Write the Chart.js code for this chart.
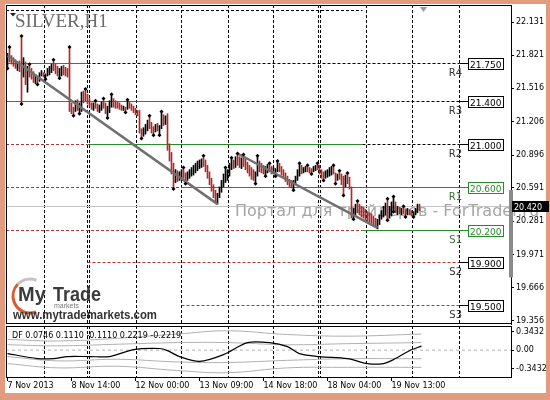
<!DOCTYPE html>
<html>
<head>
<meta charset="utf-8">
<script src="https://cdn.jsdelivr.net/npm/chart.js@4.4.1/dist/chart.umd.min.js"></script>
<style>
  html, body { margin: 0; padding: 0; background: #e39b80; }
  #frame { position: relative; width: 550px; height: 400px; background: #e39b80; overflow: hidden; }
  #paper { position: absolute; left: 5px; top: 4px; width: 541px; height: 389px; background: #fff; }
  canvas { position: absolute; left: 0; }
  #main { top: 0; }
  #sub { top: 320px; }
</style>
</head>
<body>
<div id="frame">
  <div id="paper"></div>
  <canvas id="main" width="550" height="330"></canvas>
  <canvas id="sub" width="550" height="80"></canvas>
</div>
<script>
// SILVER H1 bars, one per hour
const highs = [
  21.84, 21.90, 21.82, 21.80, 21.78, 21.76, 21.77, 22.00, 21.80, 21.76,
  21.72, 21.74, 21.70, 21.67, 21.64, 21.63, 21.66, 21.68, 21.66, 21.65,
  21.70, 21.72, 21.74, 21.78, 21.74, 21.72, 21.70, 21.72, 21.73, 21.71,
  21.70, 21.90, 21.38, 21.34, 21.40, 21.41, 21.38, 21.48, 21.49, 21.51,
  21.46, 21.42, 21.38, 21.38, 21.40, 21.37, 21.36, 21.39, 21.42, 21.38,
  21.35, 21.40, 21.46, 21.42, 21.40, 21.39, 21.38, 21.36, 21.35, 21.34,
  21.41, 21.39, 21.37, 21.35, 21.33, 21.31, 21.31, 21.14, 21.15, 21.18,
  21.22, 21.26, 21.20, 21.16, 21.18, 21.19, 21.17, 21.30, 21.27, 21.26,
  21.28, 21.00, 20.92, 20.82, 20.76, 20.75, 20.74, 20.76, 20.78, 20.73,
  20.74, 20.76, 20.78, 20.80, 20.82, 20.84, 20.85, 20.86, 20.89, 20.85,
  20.80, 20.74, 20.68, 20.62, 20.57, 20.54, 20.60, 20.66, 20.72, 20.78,
  20.76, 20.82, 20.87, 20.85, 20.88, 20.91, 20.88, 20.87, 20.90, 20.86,
  20.83, 20.80, 20.78, 20.76, 20.74, 20.89, 20.84, 20.82, 20.80, 20.79,
  20.81, 20.82, 20.79, 20.78, 20.77, 20.84, 20.82, 20.79, 20.76, 20.73,
  20.70, 20.67, 20.66, 20.66, 20.70, 20.76, 20.82, 20.80, 20.78, 20.79,
  20.80, 20.78, 20.77, 20.79, 20.80, 20.82, 20.80, 20.76, 20.74, 20.75,
  20.76, 20.78, 20.79, 20.80, 20.73, 20.72, 20.75, 20.72, 20.70, 20.71,
  20.73, 20.69, 20.60, 20.40, 20.44, 20.47, 20.44, 20.42, 20.41, 20.39,
  20.37, 20.36, 20.35, 20.33, 20.31, 20.30, 20.34, 20.38, 20.42, 20.45,
  20.49, 20.42, 20.46, 20.51, 20.46, 20.42, 20.41, 20.40, 20.42, 20.39,
  20.40, 20.39, 20.38, 20.37, 20.40, 20.44, 20.44
];
const lows = [
  21.70, 21.76, 21.74, 21.72, 21.70, 21.68, 21.67, 21.37, 21.62, 21.55,
  21.48, 21.62, 21.60, 21.57, 21.56, 21.55, 21.58, 21.63, 21.62, 21.60,
  21.63, 21.64, 21.66, 21.68, 21.65, 21.63, 21.61, 21.63, 21.64, 21.63,
  21.62, 21.30, 21.28, 21.26, 21.30, 21.31, 21.28, 21.30, 21.38, 21.40,
  21.37, 21.35, 21.32, 21.31, 21.33, 21.30, 21.29, 21.31, 21.33, 21.28,
  21.24, 21.29, 21.34, 21.34, 21.33, 21.33, 21.32, 21.31, 21.31, 21.29,
  21.32, 21.33, 21.31, 21.29, 21.27, 21.26, 21.10, 21.05, 21.07, 21.09,
  21.12, 21.14, 21.10, 21.08, 21.11, 21.12, 21.08, 21.14, 21.17, 21.18,
  20.94, 20.84, 20.72, 20.58, 20.64, 20.65, 20.66, 20.67, 20.68, 20.63,
  20.66, 20.68, 20.70, 20.71, 20.73, 20.75, 20.77, 20.78, 20.79, 20.74,
  20.68, 20.62, 20.56, 20.50, 20.46, 20.44, 20.50, 20.55, 20.60, 20.64,
  20.66, 20.70, 20.76, 20.77, 20.78, 20.80, 20.78, 20.77, 20.79, 20.76,
  20.73, 20.70, 20.67, 20.66, 20.63, 20.70, 20.74, 20.73, 20.72, 20.70,
  20.73, 20.74, 20.72, 20.72, 20.70, 20.74, 20.74, 20.71, 20.68, 20.65,
  20.62, 20.60, 20.59, 20.57, 20.62, 20.66, 20.70, 20.72, 20.73, 20.74,
  20.74, 20.73, 20.72, 20.74, 20.75, 20.76, 20.72, 20.68, 20.66, 20.68,
  20.69, 20.70, 20.71, 20.72, 20.63, 20.66, 20.67, 20.62, 20.52, 20.60,
  20.63, 20.58, 20.31, 20.30, 20.34, 20.36, 20.34, 20.32, 20.31, 20.29,
  20.28, 20.27, 20.26, 20.24, 20.23, 20.21, 20.25, 20.30, 20.32, 20.34,
  20.29, 20.31, 20.33, 20.37, 20.36, 20.34, 20.35, 20.34, 20.35, 20.32,
  20.34, 20.34, 20.33, 20.32, 20.34, 20.36, 20.38
];
const closes = [
  21.80, 21.78, 21.76, 21.74, 21.71, 21.72, 21.69, 21.66, 21.70, 21.60,
  21.68, 21.66, 21.62, 21.59, 21.60, 21.58, 21.64, 21.65, 21.63, 21.64,
  21.68, 21.70, 21.72, 21.70, 21.67, 21.65, 21.66, 21.68, 21.66, 21.65,
  21.64, 21.34, 21.31, 21.30, 21.36, 21.33, 21.34, 21.46, 21.44, 21.43,
  21.40, 21.37, 21.34, 21.36, 21.35, 21.33, 21.34, 21.37, 21.35, 21.30,
  21.33, 21.38, 21.40, 21.36, 21.35, 21.34, 21.33, 21.32, 21.33, 21.32,
  21.38, 21.35, 21.33, 21.31, 21.29, 21.28, 21.12, 21.09, 21.13, 21.16,
  21.20, 21.17, 21.12, 21.11, 21.16, 21.14, 21.15, 21.28, 21.24, 21.25,
  20.98, 20.88, 20.76, 20.66, 20.72, 20.69, 20.71, 20.73, 20.70, 20.68,
  20.72, 20.74, 20.76, 20.78, 20.80, 20.81, 20.83, 20.84, 20.82, 20.76,
  20.70, 20.64, 20.58, 20.53, 20.49, 20.52, 20.58, 20.64, 20.70, 20.72,
  20.74, 20.80, 20.84, 20.80, 20.86, 20.84, 20.82, 20.86, 20.81, 20.78,
  20.75, 20.72, 20.70, 20.68, 20.72, 20.80, 20.77, 20.75, 20.74, 20.77,
  20.79, 20.76, 20.74, 20.75, 20.76, 20.81, 20.77, 20.73, 20.70, 20.67,
  20.64, 20.62, 20.61, 20.64, 20.68, 20.74, 20.78, 20.76, 20.77, 20.78,
  20.76, 20.75, 20.74, 20.78, 20.79, 20.78, 20.74, 20.70, 20.69, 20.72,
  20.73, 20.74, 20.76, 20.74, 20.68, 20.71, 20.69, 20.64, 20.62, 20.68,
  20.66, 20.60, 20.36, 20.38, 20.42, 20.40, 20.37, 20.35, 20.33, 20.31,
  20.30, 20.29, 20.28, 20.26, 20.25, 20.28, 20.32, 20.36, 20.40, 20.43,
  20.36, 20.39, 20.40, 20.42, 20.38, 20.40, 20.37, 20.38, 20.37, 20.36,
  20.38, 20.36, 20.35, 20.36, 20.38, 20.43, 20.42
];
const firstOpen = 21.72;
const currentPrice = 20.42;

// fractal arrows (bar numbers)
const fractalUp = [1, 7, 11, 23, 31, 39, 44, 48, 52, 60, 71, 77, 88, 98, 109, 112, 115, 118,
  125, 131, 135, 146, 150, 155, 163, 166, 170, 175, 190, 193, 198];
const fractalDown = [0, 7, 15, 19, 26, 33, 36, 50, 59, 67, 73, 76, 83, 89, 124, 129, 134, 143,
  152, 158, 164, 168, 173, 190, 193, 199, 203];

// trend lines: [bar, price]
const trendStart = [[0, 21.82], [115, 20.91]];
const trendEnd = [[105, 20.44], [185, 20.22]];

// pivot levels of the current day
const levelNames = ['R4', 'R3', 'R2', 'R1', 'S1', 'S2', 'S3'];
const levelValues = [21.75, 21.40, 21.00, 20.60, 20.20, 19.90, 19.50];
// daily level pieces: [price, from bar, to bar, place against price]
const levelSegments = [
  [22.24, -1, 177.5, 'above'],
  [21.75, -1, 40, 'near'], [21.75, 40, 226, 'above'],
  [21.40, -1, 87, 'near'], [21.40, 87, 226, 'above'],
  [21.00, -1, 40, 'below'], [21.00, 40, 177.5, 'near'], [21.00, 177.5, 226, 'above'],
  [20.60, -1, 87, 'below'], [20.60, 87, 226, 'near'],
  [20.20, -1, 177.5, 'below'], [20.20, 177.5, 226, 'near'],
  [19.90, 40, 226, 'below'],
  [19.50, 87, 226, 'below']
];
const rangeBar = [19.76, 20.57];

const priceTicks = [22.131, 21.821, 21.516, 21.206, 20.896, 20.591, 20.281, 19.971, 19.666, 19.356];
const timeLabels = ['7 Nov 2013', '8 Nov 14:00', '12 Nov 00:00', '13 Nov 09:00', '14 Nov 18:00', '18 Nov 04:00', '19 Nov 13:00'];
const timeLabelBars = [0, 32, 64, 96, 128, 160, 192];
const separatorBars = [18.5, 40, 41, 64.5, 87, 110.5, 133, 155.5, 156.5, 179.5, 202.5, 226];

// DF oscillator
const dfBars = [0, 15, 23, 30, 41, 51, 63, 76, 80, 86, 96, 108, 120, 131, 140, 146, 156, 170, 180, 188, 193, 201, 207];
const dfValues = [-0.065, -0.157, -0.157, -0.12, -0.12, -0.12, 0.01, 0.03, -0.01, -0.12, -0.21, -0.083,
  0.14, 0.14, 0.065, -0.065, -0.12, -0.157, -0.25, -0.25, -0.176, -0.01, 0.075];
const bandBars = [0, 25, 55, 85, 110, 140, 170, 207];
const upperOuter = [0.20, 0.17, 0.22, 0.30, 0.36, 0.29, 0.26, 0.30];
const upperInner = [0.10, 0.08, 0.11, 0.14, 0.14, 0.10, 0.12, 0.14];
const lowerInner = [-0.12, -0.20, -0.17, -0.22, -0.23, -0.19, -0.16, -0.16];
const lowerOuter = [-0.25, -0.33, -0.30, -0.38, -0.42, -0.33, -0.32, -0.32];
const dfTicks = [0.3432, 0, -0.3432];
const dfTitle = 'DF 0.0746 0.1110 -0.1110 0.2219 -0.2219';

Chart.defaults.font.family = '"DejaVu Sans"';
Chart.defaults.font.size = 8;
Chart.defaults.color = '#000';

const X_MIN = -0.75, X_MAX = 251.75;
const levelStyle = {
  above: ['#000000', [3, 2]],
  near: ['#2b8a2b', []],
  below: ['#b23636', [3, 2]]
};

const barData = highs.map((h, i) => ({ x: i, y: [lows[i], h] }));
const barColors = closes.map((c, i) => c >= (i ? closes[i - 1] : firstOpen) ? '#000000' : '#b02a2a');

function hLine(ctx, x1, x2, py) {
  ctx.beginPath(); ctx.moveTo(x1, py); ctx.lineTo(x2, py); ctx.stroke();
}

const mainDecor = {
  id: 'mainDecor',
  beforeDatasetsDraw(chart) {
    const { ctx, chartArea: a, scales: { x, y } } = chart;
    ctx.save();
    ctx.lineWidth = 1;
    // day separators
    ctx.strokeStyle = '#000';
    ctx.setLineDash([3, 2]);
    separatorBars.forEach(b => {
      const px = Math.floor(x.getPixelForValue(b)) + 0.5;
      ctx.beginPath(); ctx.moveTo(px, a.top); ctx.lineTo(px, a.bottom); ctx.stroke();
    });
    // pivot levels
    levelSegments.forEach(([v, from, to, kind]) => {
      const py = Math.round(y.getPixelForValue(v)) + 0.5;
      ctx.strokeStyle = levelStyle[kind][0];
      ctx.setLineDash(levelStyle[kind][1]);
      hLine(ctx, Math.max(a.left, x.getPixelForValue(from)), x.getPixelForValue(to), py);
    });
    ctx.setLineDash([]);
    // current price line
    ctx.strokeStyle = '#c4c4c4';
    hLine(ctx, a.left, a.right, Math.round(y.getPixelForValue(currentPrice)) + 0.5);
    // watermark
    ctx.fillStyle = '#a6a6a6';
    ctx.font = '16px "DejaVu Sans"';
    ctx.fillText('Портал для трейдеров - ForTrader.ru', 235, 216);
    ctx.restore();
  },
  afterDatasetsDraw(chart) {
    const { ctx, chartArea: a, scales: { x, y } } = chart;
    ctx.save();
    ctx.lineWidth = 1;
    // level price boxes
    const lineEnd = x.getPixelForValue(226);
    levelValues.forEach((v, k) => {
      const py = Math.round(y.getPixelForValue(v)) + 0.5;
      const green = levelNames[k] === 'R1' || levelNames[k] === 'S1';
      const col = green ? '#2b8a2b' : '#000';
      ctx.strokeStyle = col;
      hLine(ctx, lineEnd, 468, py);
      ctx.fillStyle = '#fff';
      ctx.fillRect(468, py - 5.5, 36, 11);
      ctx.strokeRect(468.5, py - 5, 35, 11);
      ctx.fillStyle = col;
      ctx.font = '9px "DejaVu Sans"';
      ctx.textAlign = 'left';
      ctx.fillText(v.toFixed(3), 470, py + 4);
      ctx.textAlign = 'right';
      ctx.fillStyle = green ? '#3a6a3a' : '#333';
      ctx.font = '10px "DejaVu Sans"';
      ctx.fillText(levelNames[k], 462, py + 12);
    });
    ctx.textAlign = 'left';
    // grey range bar at the right edge
    ctx.fillStyle = '#8a8a8a';
    const r1 = y.getPixelForValue(rangeBar[1]), r0 = y.getPixelForValue(rangeBar[0]);
    ctx.fillRect(a.right - 2, r1, 4, r0 - r1);
    // title
    ctx.fillStyle = '#6a6a6a';
    ctx.font = '19px "Liberation Serif"';
    ctx.fillText('SILVER,H1', 15, 27);
    ctx.fillStyle = '#222';
    ctx.beginPath(); ctx.moveTo(10, 13); ctx.lineTo(16, 13); ctx.lineTo(13, 16.5); ctx.closePath(); ctx.fill();
    // shift marker
    ctx.fillStyle = '#9a9a9a';
    ctx.beginPath(); ctx.moveTo(420, 7); ctx.lineTo(427, 7); ctx.lineTo(423.5, 12); ctx.closePath(); ctx.fill();
    // logo
    ctx.lineWidth = 3;
    ctx.strokeStyle = '#c4c4c4';
    ctx.beginPath(); ctx.arc(30, 296, 17, 3.9, 5.1); ctx.stroke();
    ctx.strokeStyle = '#dc5a30';
    ctx.beginPath(); ctx.arc(30, 296, 17, 1.2, 3.9); ctx.stroke();
    ctx.fillStyle = '#3b3b3b';
    ctx.font = 'bold 20px "Liberation Sans"';
    ctx.fillText('My', 18, 301);
    ctx.fillText('Trade', 53, 301, 48);
    ctx.fillStyle = '#777';
    ctx.font = '7px "Liberation Sans"';
    ctx.fillText('markets', 54, 308);
    ctx.fillStyle = '#333';
    ctx.font = 'bold 12px "Liberation Sans"';
    ctx.fillText('www.mytrademarkets.com', 13, 319, 144);
    // frame
    ctx.lineWidth = 1;
    ctx.strokeStyle = '#000';
    hLine(ctx, a.left, a.right, a.top + 0.5);
    hLine(ctx, a.left, a.right, a.bottom - 0.5);
    ctx.beginPath(); ctx.moveTo(a.left + 0.5, a.top); ctx.lineTo(a.left + 0.5, a.bottom); ctx.stroke();
    // current price tag
    const cp = Math.round(y.getPixelForValue(currentPrice));
    ctx.fillStyle = '#000';
    ctx.fillRect(512, cp - 5, 37, 11);
    ctx.fillStyle = '#fff';
    ctx.font = '8px "DejaVu Sans"';
    ctx.fillText(currentPrice.toFixed(3), 514, cp + 3.5);
    ctx.restore();
  }
};

new Chart(document.getElementById('main'), {
  type: 'line',
  data: {
    datasets: [
      {
        data: fractalUp.map(i => ({ x: i, y: highs[i] })),
        showLine: false, pointStyle: 'rectRot', pointRadius: 2, pointBorderWidth: 0,
        pointBackgroundColor: '#000', pointBorderColor: '#000'
      },
      {
        data: fractalDown.map(i => ({ x: i, y: lows[i] })),
        showLine: false, pointStyle: 'rectRot', pointRadius: 2, pointBorderWidth: 0,
        pointBackgroundColor: '#000', pointBorderColor: '#000'
      },
      ...trendStart.map((s, k) => ({
        data: [{ x: s[0], y: s[1] }, { x: trendEnd[k][0], y: trendEnd[k][1] }],
        borderColor: '#707070', borderWidth: 2.5, pointRadius: 0
      })),
      {
        type: 'bar',
        data: barData,
        backgroundColor: barColors,
        barThickness: 1,
        borderWidth: 0
      }
    ]
  },
  options: {
    responsive: false,
    animation: false,
    events: [],
    layout: { padding: { left: 6, top: 5, right: 0, bottom: 6 } },
    plugins: { legend: { display: false }, tooltip: { enabled: false } },
    scales: {
      x: { type: 'linear', min: X_MIN, max: X_MAX, offset: false, display: false },
      y: {
        position: 'right',
        min: 19.327,
        max: 22.289,
        afterBuildTicks: s => { s.ticks = priceTicks.map(v => ({ value: v })); },
        afterFit: s => { s.width = 39; s.paddingTop = 0; s.paddingBottom = 0; },
        ticks: { callback: v => v.toFixed(3), padding: 2, autoSkip: false },
        grid: { drawOnChartArea: false, drawTicks: true, tickLength: 3, tickColor: '#000' },
        border: { display: true, color: '#000' }
      }
    }
  },
  plugins: [mainDecor]
});

const subDecor = {
  id: 'subDecor',
  beforeDatasetsDraw(chart) {
    const { ctx, chartArea: a, scales: { x } } = chart;
    ctx.save();
    ctx.lineWidth = 1;
    ctx.strokeStyle = '#000';
    ctx.setLineDash([3, 2]);
    separatorBars.forEach(b => {
      const px = Math.floor(x.getPixelForValue(b)) + 0.5;
      ctx.beginPath(); ctx.moveTo(px, a.top); ctx.lineTo(px, a.bottom); ctx.stroke();
    });
    ctx.setLineDash([]);
    ctx.restore();
  },
  afterDatasetsDraw(chart) {
    const { ctx, chartArea: a } = chart;
    ctx.save();
    ctx.fillStyle = '#000';
    ctx.font = '8px "DejaVu Sans"';
    ctx.fillText(dfTitle, 12, a.top + 11.5);
    ctx.lineWidth = 1;
    ctx.strokeStyle = '#000';
    hLine(ctx, a.left, a.right, a.top + 0.5);
    ctx.beginPath(); ctx.moveTo(a.left + 0.5, a.top); ctx.lineTo(a.left + 0.5, a.bottom); ctx.stroke();
    ctx.restore();
  }
};

const band = (vals) => ({
  data: bandBars.map((b, i) => ({ x: b, y: vals[i] })),
  borderColor: '#b0b0b0', borderWidth: 1, pointRadius: 0, tension: 0.4
});

new Chart(document.getElementById('sub'), {
  type: 'line',
  data: {
    datasets: [
      {
        data: dfBars.map((b, i) => ({ x: b, y: dfValues[i] })),
        borderColor: '#000', borderWidth: 1.2, pointRadius: 0, tension: 0.3
      },
      band(upperOuter), band(upperInner), band(lowerInner), band(lowerOuter),
      {
        data: [{ x: X_MIN, y: 0 }, { x: X_MAX, y: 0 }],
        borderColor: '#b0b0b0', borderWidth: 1, borderDash: [3, 3], pointRadius: 0
      }
    ]
  },
  options: {
    responsive: false,
    animation: false,
    events: [],
    layout: { padding: { left: 6, top: 6, right: 0, bottom: 0 } },
    plugins: { legend: { display: false }, tooltip: { enabled: false } },
    scales: {
      x: {
        type: 'linear', min: X_MIN, max: X_MAX, offset: false,
        afterBuildTicks: s => { s.ticks = timeLabelBars.map(v => ({ value: v })); },
        afterFit: s => { s.height = 23; s.paddingLeft = 0; s.paddingRight = 0; },
        ticks: { callback: (v, i) => timeLabels[i], align: 'start', padding: 0, maxRotation: 0, autoSkip: false },
        grid: { drawOnChartArea: false, drawTicks: true, tickLength: 4, tickColor: '#000' },
        border: { display: true, color: '#000' }
      },
      y: {
        position: 'right', min: -0.5, max: 0.449,
        afterBuildTicks: s => { s.ticks = dfTicks.map(v => ({ value: v })); },
        afterFit: s => { s.width = 39; s.paddingTop = 0; s.paddingBottom = 0; },
        ticks: { callback: v => (v === 0 ? '0.00' : v.toFixed(4)), padding: 2, autoSkip: false },
        grid: { drawOnChartArea: false, drawTicks: true, tickLength: 3, tickColor: '#000' },
        border: { display: true, color: '#000' }
      }
    }
  },
  plugins: [subDecor]
});
</script>
</body>
</html>
